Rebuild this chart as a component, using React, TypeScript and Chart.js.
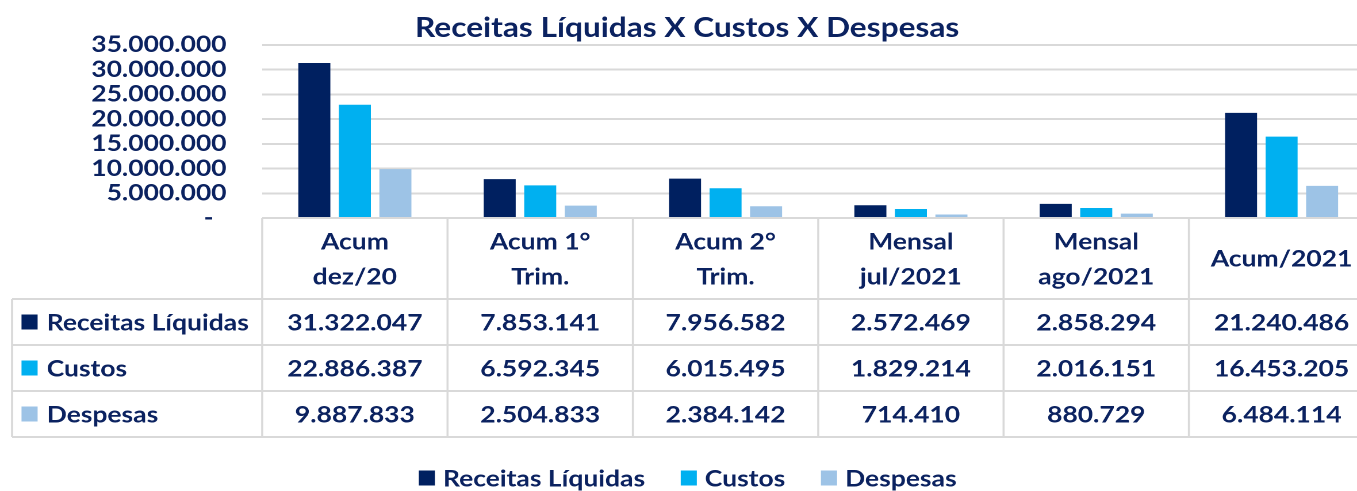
import React, { useEffect, useRef } from 'react';
import { Chart, registerables } from 'chart.js';

Chart.register(...registerables);

const categories: string[][] = [
  ['Acum', 'dez/20'],
  ['Acum 1°', 'Trim.'],
  ['Acum 2°', 'Trim.'],
  ['Mensal', 'jul/2021'],
  ['Mensal', 'ago/2021'],
  ['Acum/2021'],
];
const seriesNames = ['Receitas Líquidas', 'Custos', 'Despesas'];
const receitas = [31322047, 7853141, 7956582, 2572469, 2858294, 21240486];
const custos = [22886387, 6592345, 6015495, 1829214, 2016151, 16453205];
const despesas = [9887833, 2504833, 2384142, 714410, 880729, 6484114];
const seriesColors = ['#002060', '#00B0F0', '#9DC3E6'];
const yMax = 35000000;
const yStep = 5000000;
const titleText = 'Receitas Líquidas X Custos X Despesas';

const TEXT = '#0B2260';
const LINE = '#D9D9D9';
const STRETCH = 1.15;
const FONT = 'Lato';
const FS = 23;

const fmt = (v: number) =>
  Math.round(v).toString().replace(/\B(?=(\d{3})+(?!\d))/g, '.');

const tablePlugin = {
  id: 'dataTable',
  afterDraw(chart: any) {
    const { ctx, chartArea } = chart;
    const xs = chart.scales.x;
    const n = chart.data.labels.length;
    const left = chartArea.left;
    const right = chartArea.right;
    const colW = (right - left) / n;
    const top = chartArea.bottom;
    const headerBottom = top + 81;
    const rowH = 46;
    const tableLeft = 10.5;
    const nRows = chart.data.datasets.length;
    const bottom = headerBottom + rowH * nRows;

    ctx.save();
    ctx.strokeStyle = LINE;
    ctx.lineWidth = 2;
    ctx.beginPath();
    ctx.moveTo(left, top);
    ctx.lineTo(right, top);
    for (let r = 0; r <= nRows; r++) {
      const y = headerBottom + r * rowH;
      ctx.moveTo(tableLeft, y);
      ctx.lineTo(right, y);
    }
    ctx.stroke();
    ctx.lineWidth = 1.8;
    ctx.beginPath();
    for (let i = 0; i <= n; i++) {
      const x = i < n ? xs.getPixelForValue(i) - colW / 2 : xs.getPixelForValue(n - 1) + colW / 2;
      ctx.moveTo(x, top);
      ctx.lineTo(x, bottom);
    }
    ctx.moveTo(tableLeft, headerBottom);
    ctx.lineTo(tableLeft, bottom);
    ctx.stroke();

    ctx.fillStyle = TEXT;
    ctx.font = `bold ${FS}px ${FONT}`;
    ctx.textAlign = 'center';
    ctx.textBaseline = 'middle';
    chart.data.labels.forEach((lab: string[], i: number) => {
      const cx = xs.getPixelForValue(i);
      if (lab.length === 1) {
        ctx.fillText(lab[0], cx, top + 41);
      } else {
        ctx.fillText(lab[0], cx, top + 24);
        ctx.fillText(lab[1], cx, top + 59);
      }
    });

    chart.data.datasets.forEach((ds: any, r: number) => {
      const cy = headerBottom + rowH / 2 + r * rowH;
      ctx.textAlign = 'center';
      ds.data.forEach((v: number, i: number) => {
        ctx.fillText(fmt(v), xs.getPixelForValue(i), cy + 1);
      });
      ctx.fillStyle = ds.backgroundColor;
      ctx.fillRect(18.7, cy - 7.5, 14, 15);
      ctx.fillStyle = TEXT;
      ctx.textAlign = 'left';
      ctx.fillText(ds.label, 40.6, cy + 1);
    });

    // legend
    const ly = 478;
    const sq = 14;
    const gap = 7;
    const spacing = 31;
    const widths = chart.data.datasets.map((ds: any) => ctx.measureText(ds.label).width);
    const total = widths.reduce((a: number, b: number) => a + b + sq + gap, 0) + spacing * (widths.length - 1);
    let x = chart.width / 2 - total / 2;
    chart.data.datasets.forEach((ds: any, i: number) => {
      ctx.fillStyle = ds.backgroundColor;
      ctx.fillRect(x, ly - 7.5, sq, 15);
      ctx.fillStyle = TEXT;
      ctx.textAlign = 'left';
      ctx.fillText(ds.label, x + sq + gap, ly + 1);
      x += sq + gap + widths[i] + spacing;
    });
    ctx.restore();
  },
};

export default function App() {
  const ref = useRef<HTMLCanvasElement | null>(null);
  useEffect(() => {
    if (!ref.current) return;
    Chart.defaults.font.family = FONT;
    const chart = new Chart(ref.current, {
      type: 'bar',
      data: {
        labels: categories as any,
        datasets: [
          { label: seriesNames[0], data: receitas, backgroundColor: seriesColors[0] },
          { label: seriesNames[1], data: custos, backgroundColor: seriesColors[1] },
          { label: seriesNames[2], data: despesas, backgroundColor: seriesColors[2] },
        ],
      },
      options: {
        animation: false,
        responsive: true,
        maintainAspectRatio: false,
        devicePixelRatio: 2,
        layout: { padding: { top: 0, left: 0, right: 1, bottom: 0 } },
        datasets: { bar: { categoryPercentage: 0.656, barPercentage: 0.79 } },
        plugins: {
          legend: { display: false },
          tooltip: { enabled: false },
          title: {
            display: true,
            text: titleText,
            color: TEXT,
            font: { size: 27.5, weight: 'bold', family: FONT },
            padding: { top: 10, bottom: 0 },
          },
        },
        scales: {
          x: {
            display: true,
            ticks: { display: false },
            grid: { display: false },
            border: { display: false },
            afterFit: (s: any) => {
              s.height = 273;
            },
          },
          y: {
            min: 0,
            max: yMax,
            ticks: {
              stepSize: yStep,
              autoSkip: false,
              color: TEXT,
              padding: 31,
              font: { size: FS, weight: 'bold', family: FONT },
              callback: (v: any) => (Number(v) === 0 ? '-  ' : fmt(Number(v))),
            },
            grid: { color: LINE, lineWidth: 2, drawTicks: false },
            border: { display: false },
            afterFit: (s: any) => {
              s.width = 228;
            },
          },
        },
      },
      plugins: [tablePlugin],
    });
    return () => chart.destroy();
  }, []);

  return (
    <div style={{ position: 'absolute', left: 0, top: 0, width: 1357, height: 491, overflow: 'hidden', background: '#fff' }}>
      <div
        style={{
          position: 'relative',
          width: 1196,
          height: 491,
          transform: `scaleX(${STRETCH})`,
          transformOrigin: '0 0',
        }}
      >
        <canvas ref={ref} />
      </div>
    </div>
  );
}
